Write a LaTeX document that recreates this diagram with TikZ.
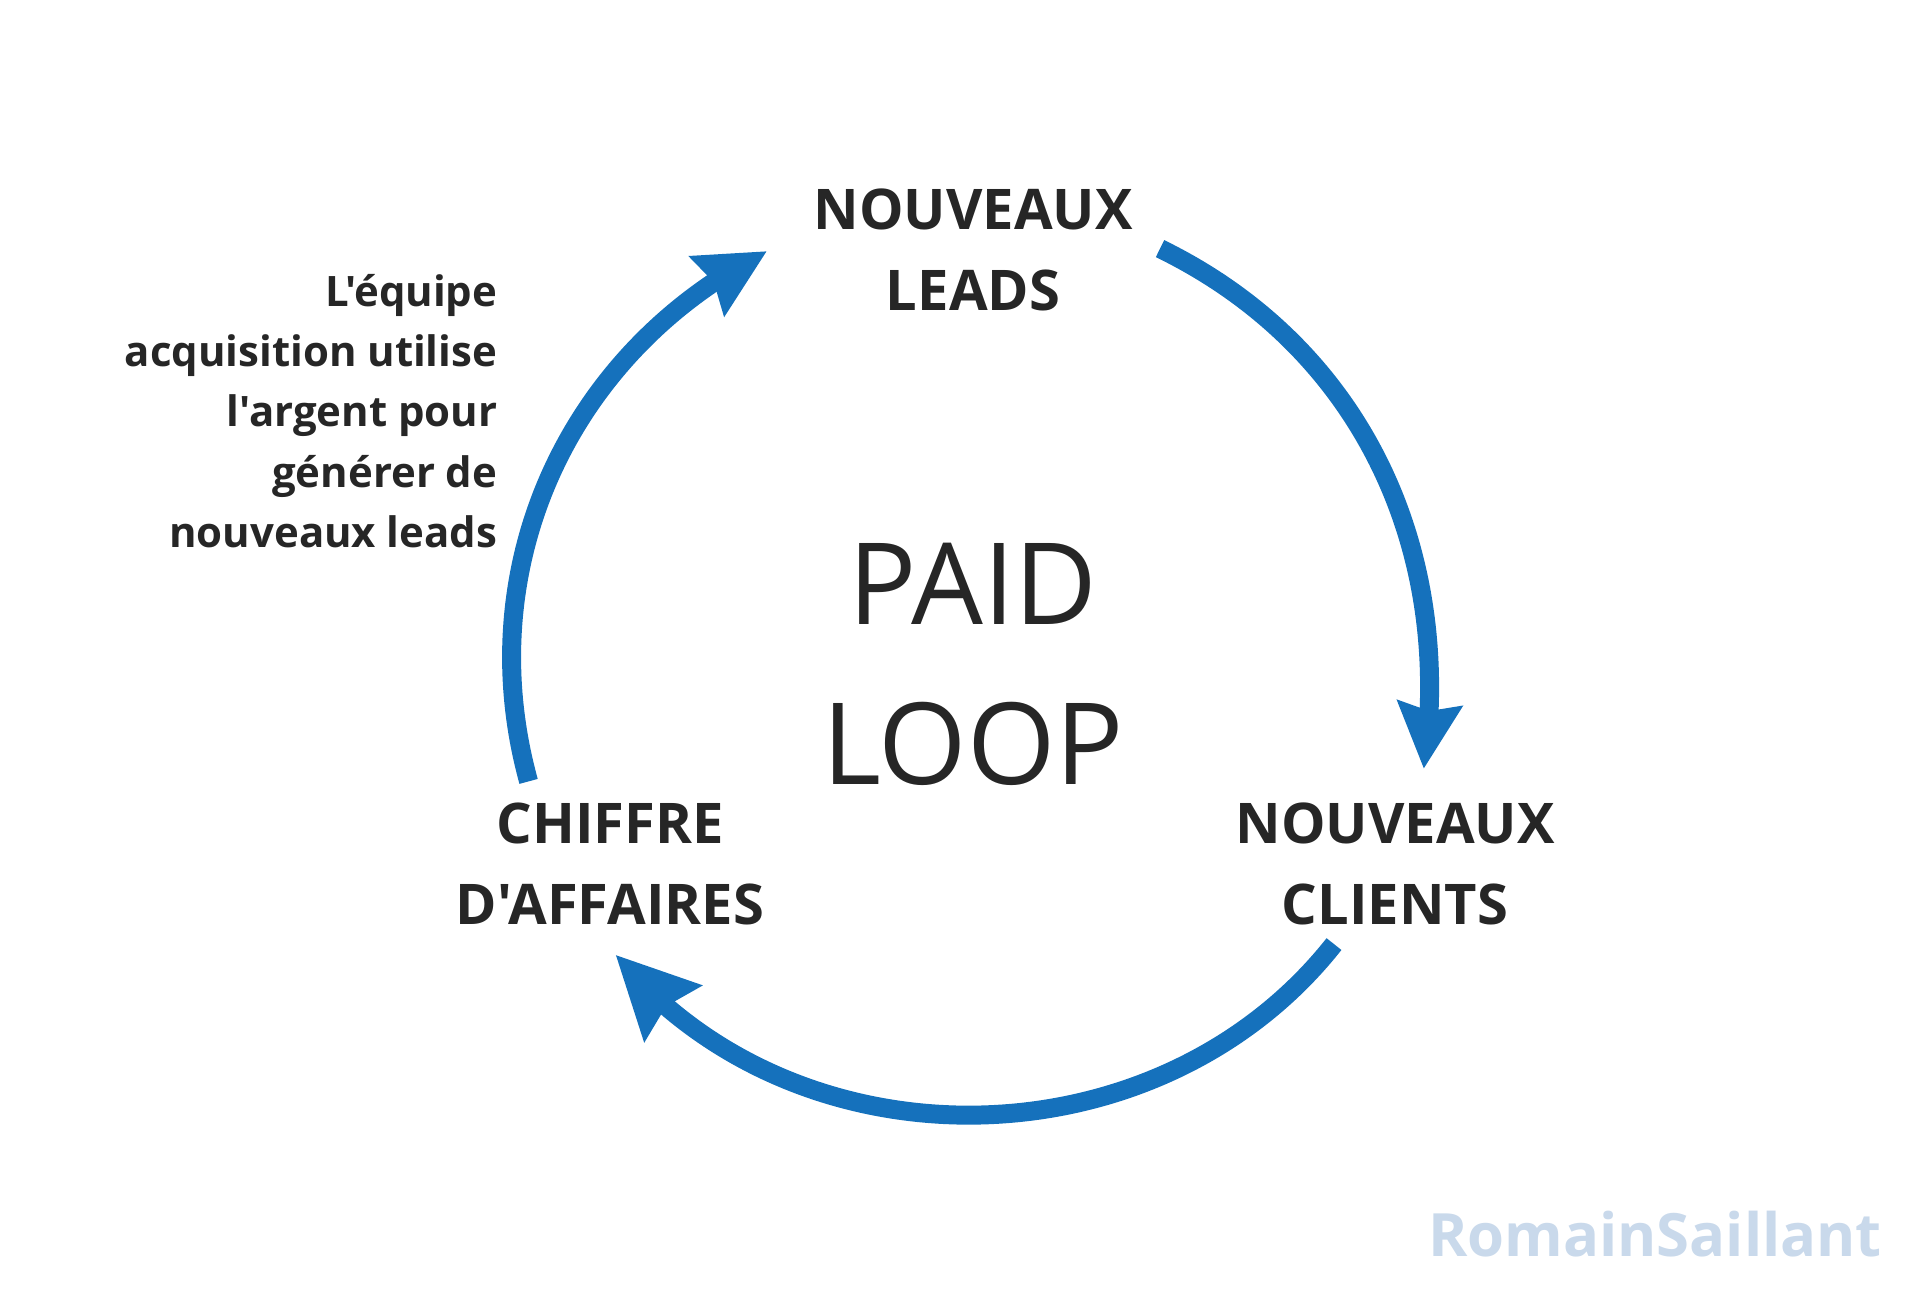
\documentclass[tikz,border=0pt]{standalone}
\usepackage{fontspec}
\setmainfont{Open Sans}[Ligatures=TeXOff]
\usetikzlibrary{arrows.meta,bending,calc}
\definecolor{loopblue}{HTML}{1571BC}
\definecolor{inkgray}{HTML}{262626}
\definecolor{markblue}{HTML}{C9D9EB}
\tikzset{steplabel/.style={
            align=center,
            inner sep=0pt,
            text=inkgray,
            font=\fontsize{15.95}{22.8}\selectfont\bfseries
        },
        looptitle/.style={
            align=center,
            inner sep=0pt,
            text=inkgray,
            font=\fontsize{32.3}{45.5}\selectfont
        },
        sidenote/.style={
            align=right,
            inner sep=0pt,
            text=inkgray,
            font=\fontsize{11.93}{17.15}\selectfont\bfseries
        },
        watermark/.style={
            inner sep=0pt,
            text=markblue,
            font=\fontsize{17}{20}\selectfont\bfseries
        },
        loopline/.style={
            draw=loopblue,
            line width=5.4pt
        }
    }

\begin{document}
\begin{tikzpicture}
        \useasboundingbox (0,0) rectangle (19.2,12.96);

        \coordinate (center) at (9.73,6.37);
        \coordinate (leadsout) at ($(center)+(65.5:4.51)$);
        \coordinate (clientsin) at ($(center)+(-13.7:4.64)$);
        \coordinate (clientsout) at ($(center)+(-38.3:4.6)$);
        \coordinate (revenuein) at ($(center)+(219.6:4.64)$);
        \coordinate (revenueout) at ($(center)+(195.4:4.61)$);
        \coordinate (leadsin) at ($(center)+(116.8:4.57)$);

        \node[steplabel] at (9.73,10.46) (leads) {NOUVEAUX\\LEADS};
        \node[steplabel] at (13.95,4.32) (clients) {NOUVEAUX\\CLIENTS};
        \node[steplabel] at (6.10,4.32) (revenue) {CHIFFRE\\D'AFFAIRES};
        \node[looptitle] at (9.73,6.32) (title) {PAID\\LOOP};
        \node[sidenote,anchor=east] at (4.98,8.85) (note) {L'équipe\\acquisition utilise\\l'argent pour\\générer de\\nouveaux leads};
        \node[watermark] at (16.55,0.62) (mark) {RomainSaillant};

        \draw[loopline,-{Stealth[length=18.5pt,width=18pt,inset=2pt]}] (leadsout) to[out=-26,in=82,looseness=0.98] (clientsin);
        \draw[loopline,-{Stealth[length=23pt,width=22pt,inset=2.5pt]}] (clientsout) to[out=-128.3,in=-50.4,looseness=1.01] (revenuein);
        \draw[loopline,-{Stealth[length=19.5pt,width=19pt,inset=2pt]}] (revenueout) to[out=105.4,in=206.8,looseness=0.98] (leadsin);

    \end{tikzpicture}
\end{document}
